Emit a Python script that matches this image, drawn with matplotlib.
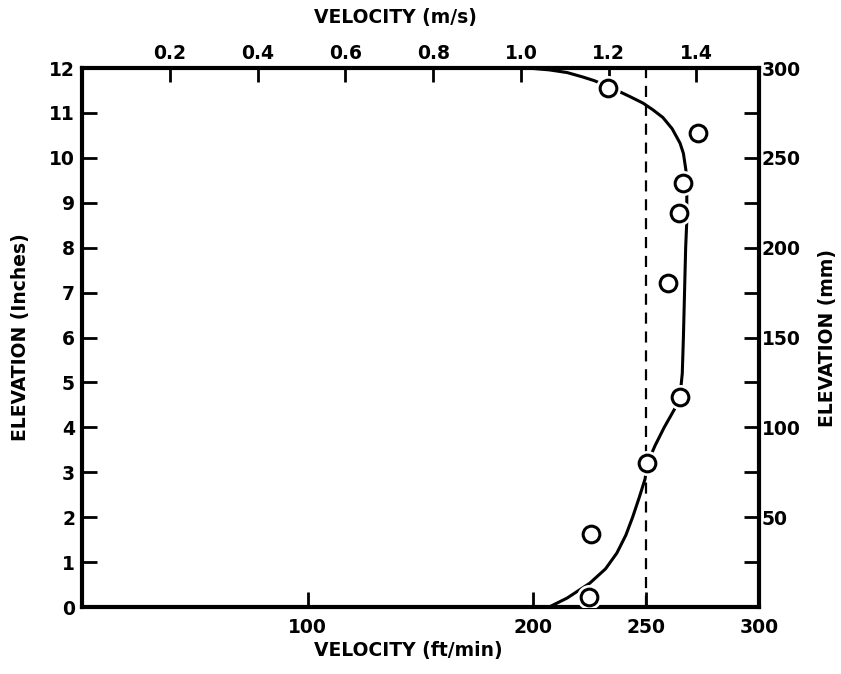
import numpy as np
import matplotlib
matplotlib.use("Agg")
import matplotlib.pyplot as plt
from matplotlib.ticker import MultipleLocator, FixedLocator

# measured points (velocity ft/min, elevation inches)
pt_vel = [233.1, 272.9, 266.3, 264.5, 259.6, 265.0, 250.3, 225.5, 224.6]
pt_elev = [11.56, 10.56, 9.44, 8.78, 7.22, 4.68, 3.21, 1.63, 0.22]

# fitted profile
crv_vel = [207, 215, 225, 232, 237, 241, 244, 247, 249.5, 250.5, 254, 258,
           262.5, 265, 266, 266.5, 267, 267.5, 268, 268, 267.6, 266.5, 265,
           261.5, 257.4, 253, 248.6, 243, 238.4, 232.6, 227, 222, 215, 207,
           200, 195]
crv_elev = [0.0, 0.2, 0.53, 0.85, 1.2, 1.6, 2.0, 2.45, 2.85, 3.2, 3.6, 4.0,
            4.4, 4.7, 5.2, 6.0, 7.0, 8.0, 8.6, 9.2, 9.73, 10.1, 10.33,
            10.65, 10.9, 11.07, 11.22, 11.36, 11.47, 11.6, 11.72, 11.8, 11.9,
            11.96, 11.99, 12.0]

mean_vel = 250
ft_per_ms = 194.5   # scale used on the drawing
mm_per_in = 25.0

plt.rcParams['font.family'] = ['DejaVu Sans']
plt.rcParams['font.weight'] = 'bold'
fs = 13.5

fig = plt.figure(figsize=(8.41, 6.74), dpi=100)
ax = fig.add_axes([0.0975, 0.0994, 0.805, 0.7996])

ax.plot(crv_vel, crv_elev, color='black', lw=2.2, zorder=2)
ax.axvline(mean_vel, color='black', lw=1.6, ls=(0, (5, 3.5)), zorder=1)
# white halo to break the line around the circles
ax.plot(pt_vel, pt_elev, 'o', ms=17, mfc='white', mec='white', zorder=3)
ax.plot(pt_vel, pt_elev, 'o', ms=12, mfc='white', mec='black', mew=2.2, zorder=4)

ax.set_xlim(0, 300)
ax.set_ylim(0, 12)
for s in ax.spines.values():
    s.set_linewidth(3)

ax.xaxis.set_major_locator(FixedLocator([100, 200, 250, 300]))
ax.yaxis.set_major_locator(MultipleLocator(1))
ax.tick_params(axis='both', direction='in', length=11, width=2,
               labelsize=fs, pad=5)
ax.tick_params(axis='x', pad=8)

ax.set_ylabel('ELEVATION (Inches)', fontsize=fs, fontweight='bold', labelpad=14)
fig.text(0.486, 0.035, 'VELOCITY (ft/min)', fontsize=fs, fontweight='bold',
         ha='center', va='center')

top = ax.secondary_xaxis('top', functions=(lambda v: v / ft_per_ms,
                                           lambda v: v * ft_per_ms))
top.set_xticks([0.2, 0.4, 0.6, 0.8, 1.0, 1.2, 1.4])
top.set_xticklabels(['0.2', '0.4', '0.6', '0.8', '1.0', '1.2', '1.4'])
top.tick_params(direction='in', length=10, width=2, labelsize=fs, pad=4)
fig.text(0.47, 0.974, 'VELOCITY (m/s)', fontsize=fs, fontweight='bold',
         ha='center', va='center')

right = ax.secondary_yaxis('right', functions=(lambda v: v * mm_per_in,
                                               lambda v: v / mm_per_in))
right.yaxis.set_major_locator(FixedLocator([50, 100, 150, 200, 250, 300]))
right.yaxis.set_minor_locator(FixedLocator([25, 75, 125, 175, 225, 275]))
right.tick_params(which='both', direction='in', length=11, width=2,
                  labelsize=fs, pad=2)
right.set_ylabel('ELEVATION (mm)', fontsize=fs, fontweight='bold', labelpad=12)

fig.savefig('out.png', dpi=100)
